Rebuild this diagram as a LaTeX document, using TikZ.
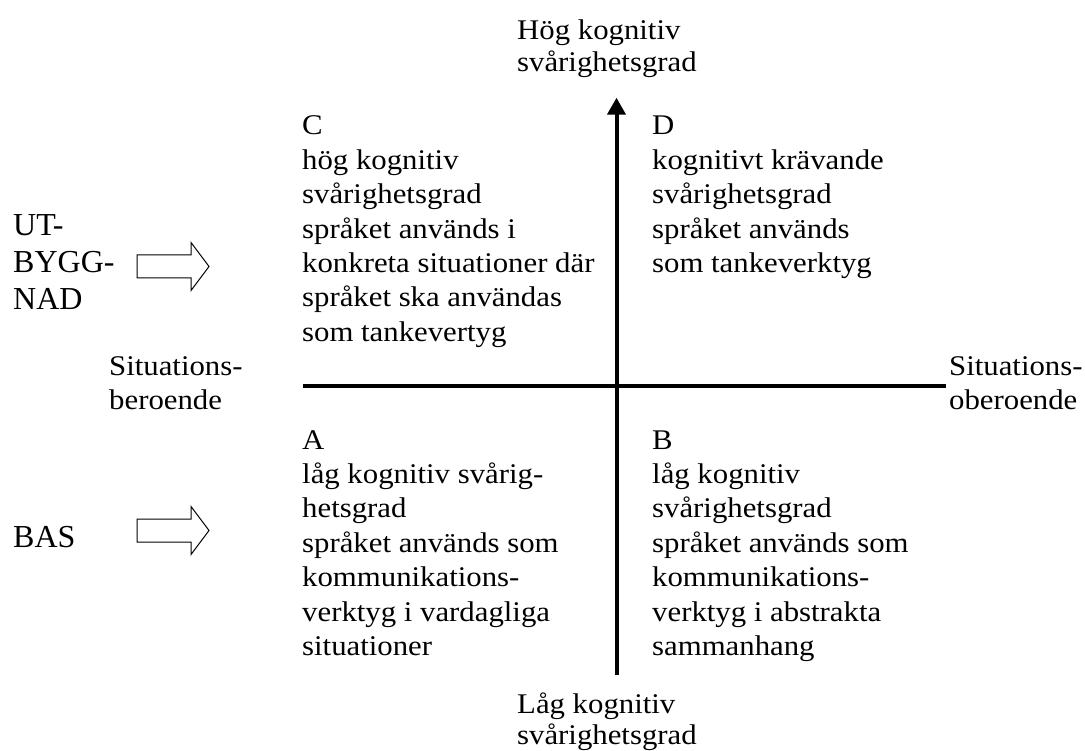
\documentclass[tikz,border=0pt]{standalone}
\usepackage{fontspec}
\setmainfont[FakeStretch=1.08]{Liberation Serif}
\newfontfamily\sidefont{Liberation Serif}
\usetikzlibrary{arrows.meta}
\tikzset{>=latex}
% hollow block arrow: left end x, centre y
\newcommand{\hollowarrow}[2]{%
\draw[line width=1pt] (#1,#2-11.5) -- ++(54,0) -- ++(0,-12.5) -- (#1+72,#2)
 -- (#1+54,#2+24) -- ++(0,-12.5) -- (#1,#2+11.5) -- cycle;}

\begin{document}
\begin{tikzpicture}[x=1pt,y=-1pt,
quad/.style={anchor=base west, align=left, inner sep=0pt, font=\fontsize{28.5}{34.4}\selectfont},
axislabel/.style={anchor=base west, align=left, inner sep=0pt, font=\fontsize{28.5}{31.5}\selectfont},
side/.style={anchor=base west, align=left, inner sep=0pt, font=\sidefont\fontsize{32}{36.7}\selectfont},
axis/.style={line width=4pt}]
\useasboundingbox (0,0) rectangle (1085,751);

% axes
\coordinate (bottom) at (616.5,675);
\coordinate (top) at (616.5,97.7);
\coordinate (west) at (303,386);
\coordinate (east) at (946,386);
\draw[axis,-{Triangle[length=17pt,width=18pt]}] (bottom) -- (top);
\draw[axis] (west) -- (east);

% labels are placed at the baseline of their last line
\node[axislabel] (hog) at (517,71.5) {Hög kognitiv\\svårighetsgrad};
\node[axislabel] (lag) at (517,744.5) {Låg kognitiv\\svårighetsgrad};
\node[quad] (beroende) at (109,409.4) {Situations-\\beroende};
\node[quad] (oberoende) at (949,409.4) {Situations-\\oberoende};

% quadrants
\node[quad] (C) at (302,341.4) {C\\hög kognitiv\\svårighetsgrad\\språket används i\\konkreta situationer där\\språket ska användas\\som tankevertyg};
\node[quad] (D) at (652,272.6) {D\\kognitivt krävande\\svårighetsgrad\\språket används\\som tankeverktyg};
\node[quad] (A) at (302,655.4) {A\\låg kognitiv svårig-\\hetsgrad\\språket används som\\kommunikations-\\verktyg i vardagliga\\situationer};
\node[quad] (B) at (652,655.4) {B\\låg kognitiv\\svårighetsgrad\\språket används som\\kommunikations-\\verktyg i abstrakta\\sammanhang};

% levels
\node[side] (utbyggnad) at (13,309.4) {UT-\\BYGG-\\NAD};
\node[side] (bas) at (13,547) {BAS};
\hollowarrow{137}{266.5}
\hollowarrow{137}{530.5}
\end{tikzpicture}
\end{document}
